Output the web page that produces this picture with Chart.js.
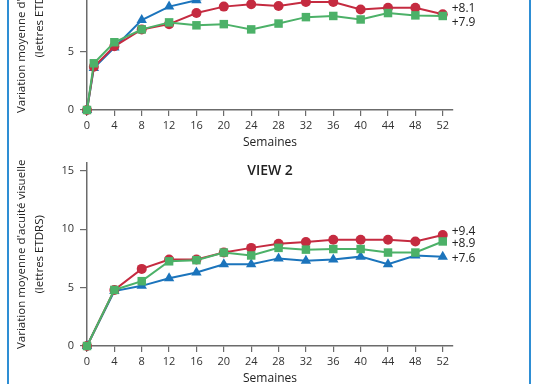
<!DOCTYPE html>
<html>
<head>
<meta charset="utf-8">
<script src="https://cdn.jsdelivr.net/npm/chart.js@4"></script>
<style>
  html, body { margin: 0; padding: 0; background: #fff; }
  body { width: 538px; height: 384px; overflow: hidden; position: relative; }
  .box { position: absolute; left: 0; width: 538px; height: 240px; }
  .rule { position: absolute; top: 0; width: 2px; height: 384px; background: #2e8ed4; }
</style>
</head>
<body>
<div class="box" style="top:-86px"><canvas id="view1"></canvas></div>
<div class="box" style="top:150px"><canvas id="view2"></canvas></div>
<div class="rule" style="left:7px"></div>
<div class="rule" style="left:529px"></div>
<script>
// Data
const weeks1 = [0, 1, 4, 8, 12, 16, 20, 24, 28, 32, 36, 40, 44, 48, 52];
const weeks2 = [0, 4, 8, 12, 16, 20, 24, 28, 32, 36, 40, 44, 48, 52];
const xTicks = [0, 4, 8, 12, 16, 20, 24, 28, 32, 36, 40, 44, 48, 52];
const yTicks = [0, 5, 10, 15];

const view1Red   = [0, 3.7, 5.45, 6.9, 7.35, 8.3, 8.85, 9.05, 8.9, 9.25, 9.25, 8.6, 8.75, 8.75, 8.2];
const view1Green = [0, 4.0, 5.8, 6.9, 7.5, 7.25, 7.35, 6.9, 7.4, 7.95, 8.05, 7.75, 8.3, 8.1, 8.05];
const view1Blue  = [0, 3.6, 5.35, 7.7, 8.85, 9.4, 9.9, 10.2, 10.4, 10.6, 10.8, 10.5, 10.9, 11.0, 10.9];

const view2Red   = [0, 4.8, 6.6, 7.4, 7.4, 8.0, 8.4, 8.75, 8.9, 9.1, 9.1, 9.1, 8.95, 9.5];
const view2Green = [0, 4.8, 5.55, 7.25, 7.35, 8.0, 7.75, 8.4, 8.25, 8.3, 8.3, 8.0, 8.0, 8.95];
const view2Blue  = [0, 4.7, 5.15, 5.8, 6.3, 7.0, 7.0, 7.5, 7.3, 7.4, 7.65, 7.0, 7.75, 7.65];

const view1Labels = ['+7.9', '+8.1', '+10.9'];   // green, red, blue
const view2Labels = ['+8.9', '+9.4', '+7.6'];
const view1LabelDy = [7, -5.5, 0];
const view2LabelDy = [2.5, -3, 1.5];

const RED = '#c52b40';
const GREEN = '#4cb168';
const BLUE = '#1b74bc';
const FONT = "'Open Sans', sans-serif";

function pts(xs, ys) {
  return xs.map((x, i) => ({ x: x, y: ys[i] }));
}

const endLabels = {
  id: 'endLabels',
  afterDatasetsDraw(chart) {
    const ctx = chart.ctx;
    ctx.save();
    ctx.font = '12px ' + FONT;
    ctx.fillStyle = '#222';
    ctx.textAlign = 'left';
    ctx.textBaseline = 'middle';
    chart.data.datasets.forEach((ds, i) => {
      const meta = chart.getDatasetMeta(i);
      const last = meta.data[meta.data.length - 1];
      ctx.fillText(ds.endLabel, last.x + 9, last.y + ds.labelDy);
    });
    ctx.restore();
  }
};

const viewTitle = {
  id: 'viewTitle',
  afterDraw(chart, args, opts) {
    const ctx = chart.ctx;
    const a = chart.chartArea;
    ctx.save();
    ctx.font = '600 14px ' + FONT;
    ctx.fillStyle = '#222';
    ctx.textAlign = 'center';
    ctx.textBaseline = 'middle';
    ctx.fillText(opts.text, (a.left + a.right) / 2, a.top + 8);
    ctx.restore();
  }
};

function makeSet(label, data, color, style, radius, endLabel, dy) {
  return {
    label: label,
    data: data,
    borderColor: color,
    backgroundColor: color,
    borderWidth: 2,
    pointStyle: style,
    pointRadius: radius,
    pointBorderWidth: 0,
    pointBackgroundColor: color,
    showLine: true,
    fill: false,
    clip: false,
    endLabel: endLabel,
    labelDy: dy
  };
}

function makeChart(id, title, weeks, red, green, blue, labels, dys) {
  return new Chart(document.getElementById(id), {
    type: 'scatter',
    data: {
      datasets: [
        makeSet('Aflibercept 2q8', pts(weeks, green), GREEN, 'rect', 6, labels[0], dys[0]),
        makeSet('Ranibizumab 0.5q4', pts(weeks, red), RED, 'circle', 5, labels[1], dys[1]),
        makeSet('Aflibercept 2q4', pts(weeks, blue), BLUE, 'triangle', 6, labels[2], dys[2])
      ]
    },
    options: {
      responsive: true,
      maintainAspectRatio: false,
      animation: false,
      layout: { padding: { top: 12, right: 85, left: 0, bottom: 0 } },
      plugins: {
        legend: { display: false },
        tooltip: { enabled: false },
        viewTitle: { text: title }
      },
      scales: {
        x: {
          type: 'linear',
          min: 0,
          max: 53.5,
          afterBuildTicks: s => { s.ticks = xTicks.map(v => ({ value: v })); },
          afterFit: s => { s.height = 44; },
          border: { color: '#6b6b6b', width: 1.5 },
          grid: { drawOnChartArea: false, drawTicks: true, tickLength: 6, color: '#6b6b6b', lineWidth: 1.2 },
          ticks: { color: '#333', font: { family: FONT, size: 11 }, padding: 3, maxRotation: 0 },
          title: { display: true, text: 'Semaines', color: '#222', font: { family: FONT, size: 12 }, padding: { top: 0, bottom: 4 } }
        },
        y: {
          min: 0,
          max: 15.7,
          afterBuildTicks: s => { s.ticks = yTicks.map(v => ({ value: v })); },
          afterFit: s => { s.width = 87; },
          border: { color: '#6b6b6b', width: 1.5 },
          grid: { drawOnChartArea: false, drawTicks: true, tickLength: 7, color: '#6b6b6b', lineWidth: 1.2 },
          ticks: { color: '#333', font: { family: FONT, size: 11 }, padding: 6 },
          title: {
            display: true,
            text: ["Variation moyenne d'acuité visuelle", '(lettres ETDRS)'],
            color: '#222',
            font: { family: FONT, size: 11.5, lineHeight: '18px' },
            padding: { top: 13, bottom: 0 }
          }
        }
      }
    },
    plugins: [endLabels, viewTitle]
  });
}

makeChart('view1', 'VIEW 1', weeks1, view1Red, view1Green, view1Blue, view1Labels, view1LabelDy);
makeChart('view2', 'VIEW 2', weeks2, view2Red, view2Green, view2Blue, view2Labels, view2LabelDy);
</script>
</body>
</html>
